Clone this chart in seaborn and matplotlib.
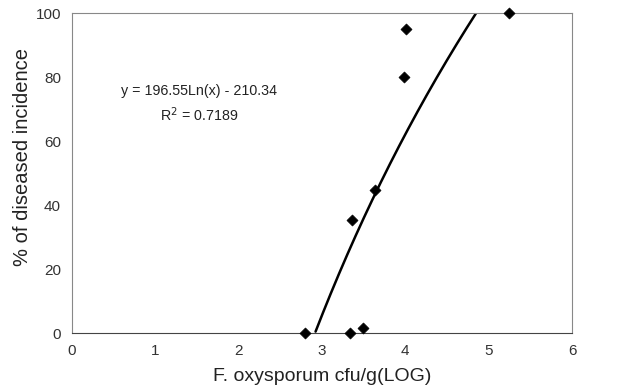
import numpy as np
import pandas as pd
import matplotlib
matplotlib.use("Agg")
import matplotlib.pyplot as plt
import seaborn as sns

log_cfu = [2.80, 3.33, 3.49, 3.36, 3.63, 3.98, 4.01, 5.24]
incidence = [0, 0, 1.7, 35.3, 44.7, 80.1, 95.0, 100]
coef_a = 196.55
coef_b = -210.34
x_ticks = [0, 1, 2, 3, 4, 5, 6]
y_ticks = [0, 20, 40, 60, 80, 100]

sns.set_theme(style="white")
plt.rcParams['font.family'] = ['Liberation Sans', 'DejaVu Sans']

fig = plt.figure(figsize=(6.23, 3.92), dpi=100)
ax = fig.add_axes([0.1156, 0.1505, 0.8026, 0.8163])

df = pd.DataFrame({"x": log_cfu, "y": incidence})
xs = np.linspace(2.0, 6.0, 400)
ys = coef_a * np.log(xs) + coef_b
mask = (ys >= 0) & (ys <= 100)
fit = pd.DataFrame({"x": xs[mask], "y": ys[mask]})
sns.lineplot(data=fit, x="x", y="y", ax=ax, color="black", linewidth=1.8, zorder=2)
sns.scatterplot(data=df, x="x", y="y", ax=ax, marker="D", s=32, color="black",
                edgecolor="black", zorder=3, clip_on=False)

ax.set_xlim(0, 6)
ax.set_ylim(0, 100)
ax.set_xticks(x_ticks)
ax.set_yticks(y_ticks)
ax.tick_params(axis="both", labelsize=11, colors="#333333", length=0, pad=8)
for s in ax.spines.values():
    s.set_color("#888888")
    s.set_linewidth(0.8)
    s.set_linestyle((0, (1, 1)))
ax.spines["bottom"].set_color("#444444")
ax.spines["bottom"].set_linestyle("-")

ax.set_xlabel("F. oxysporum cfu/g(LOG)", fontsize=14, color="#222222", labelpad=7)
ax.set_ylabel("% of diseased incidence", fontsize=14.5, color="#222222")
ax.yaxis.set_label_coords(-0.08, 0.55)

ax.text(1.52, 75.6, "y = 196.55Ln(x) - 210.34", fontsize=10.3, ha="center", va="center", color="#222222")
ax.text(1.53, 68.1, "R$^2$ = 0.7189", fontsize=10.3, ha="center", va="center", color="#222222")

fig.savefig("out.png", dpi=100)
